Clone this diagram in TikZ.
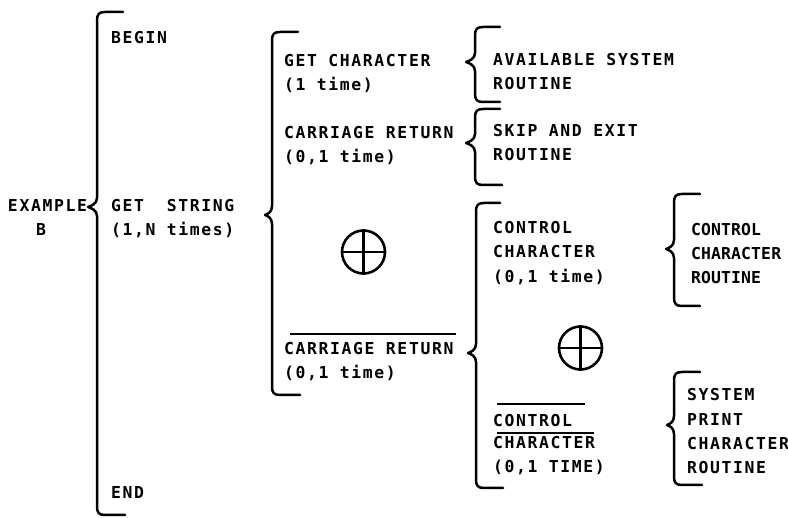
\documentclass[tikz,border=0pt]{standalone}
\usepackage{fontspec}
\newfontfamily\wofont[LetterSpace=10]{DejaVu Sans Mono}
\newfontfamily\wofontn[LetterSpace=1]{DejaVu Sans Mono}
\tikzset{
  lbl/.style={anchor=base west, inner sep=0pt, outer sep=0pt,
    font=\wofont\bfseries\fontsize{16.4}{24}\selectfont},
  lbln/.style={lbl, font=\wofontn\bfseries\fontsize{16.4}{24}\selectfont},
  bracepen/.style={line width=2.5pt, line join=round, line cap=round},
  barpen/.style={line width=2.4pt},
  orpen/.style={circle, draw, line width=2.6pt, minimum size=43pt, inner sep=0pt}
}
% Warnier brace: x, top, cusp, bottom, top hook end, bottom hook end, cusp depth
\newcommand{\obrace}[7]{%
  \draw[bracepen] (#5,#2) -- ({#1+8},#2)
    .. controls ({#1+2},#2) and (#1,{#2+2}) .. (#1,{#2+9})
    -- (#1,{#3-9})
    .. controls (#1,{#3-3}) and ({#1-#7+3},{#3-1}) .. ({#1-#7},#3)
    .. controls ({#1-#7+3},{#3+1}) and (#1,{#3+3}) .. (#1,{#3+9})
    -- (#1,{#4-9})
    .. controls (#1,{#4-2}) and ({#1+2},#4) .. ({#1+8},#4) -- (#6,#4);}
\begin{document}
\begin{tikzpicture}[x=1pt,y=-1pt]
\useasboundingbox (0,0) rectangle (788,518);

% level 0
\node[lbl] (ex1) at (8,212) {EXAMPLE};
\node[lbl] (ex2) at (36,236) {B};
\obrace{97}{12}{207}{515}{123}{125}{9}

% level 1
\node[lbl] (begin) at (111,44) {BEGIN};
\node[lbl] (gs1) at (111,212) {GET~~STRING};
\node[lbl] (gs2) at (111,236) {(1,N times)};
\node[lbl] (end) at (111,499) {END};
\obrace{272}{32}{215}{395}{298}{300}{7}

% level 2
\node[lbl] (gc1) at (284,67) {GET CHARACTER};
\node[lbl] (gc2) at (284,91) {(1 time)};
\node[lbl] (cr1) at (284,139) {CARRIAGE RETURN};
\node[lbl] (cr2) at (284,163) {(0,1 time)};
\node[orpen] (xor1) at (363.5,252) {};
\draw[line width=2.4pt] (xor1.north) -- (xor1.south) (xor1.west) -- (xor1.east);
\node[lbl] (ncr1) at (284,355) {CARRIAGE RETURN};
\node[lbl] (ncr2) at (284,379) {(0,1 time)};
\draw[barpen] (290,334) -- (456,334);

% level 3
\obrace{475}{27}{62}{102}{500}{500}{9}
\node[lbl] (as1) at (493,66) {AVAILABLE SYSTEM};
\node[lbl] (as2) at (493,90) {ROUTINE};
\obrace{475}{109}{143}{185}{500}{502}{9}
\node[lbl] (sk1) at (493,137) {SKIP AND EXIT};
\node[lbl] (sk2) at (493,161) {ROUTINE};
\obrace{476}{203}{353}{488}{500}{503}{8}
\node[lbl] (cc1) at (493,234) {CONTROL};
\node[lbl] (cc2) at (493,258) {CHARACTER};
\node[lbl] (cc3) at (493,283) {(0,1 time)};
\node[orpen] (xor2) at (580.5,348) {};
\draw[line width=2.4pt] (xor2.north) -- (xor2.south) (xor2.west) -- (xor2.east);
\node[lbl] (nc1) at (493,427) {CONTROL};
\node[lbl] (nc2) at (493,449) {CHARACTER};
\node[lbl] (nc3) at (493,473) {(0,1 TIME)};
\draw[barpen] (497,404) -- (585,404);
\draw[barpen] (497,433) -- (594,433);

% level 4
\obrace{674}{194}{249}{306}{700}{700}{8}
\node[lbln] (cr1r) at (691,236) {CONTROL};
\node[lbln] (cr2r) at (691,260) {CHARACTER};
\node[lbln] (cr3r) at (691,284) {ROUTINE};
\obrace{674}{372}{425}{485}{700}{702}{7}
\node[lbl] (sp1) at (687,401) {SYSTEM};
\node[lbl] (sp2) at (687,425.5) {PRINT};
\node[lbl] (sp3) at (687,450) {CHARACTER};
\node[lbl] (sp4) at (687,474) {ROUTINE};
\end{tikzpicture}
\end{document}
